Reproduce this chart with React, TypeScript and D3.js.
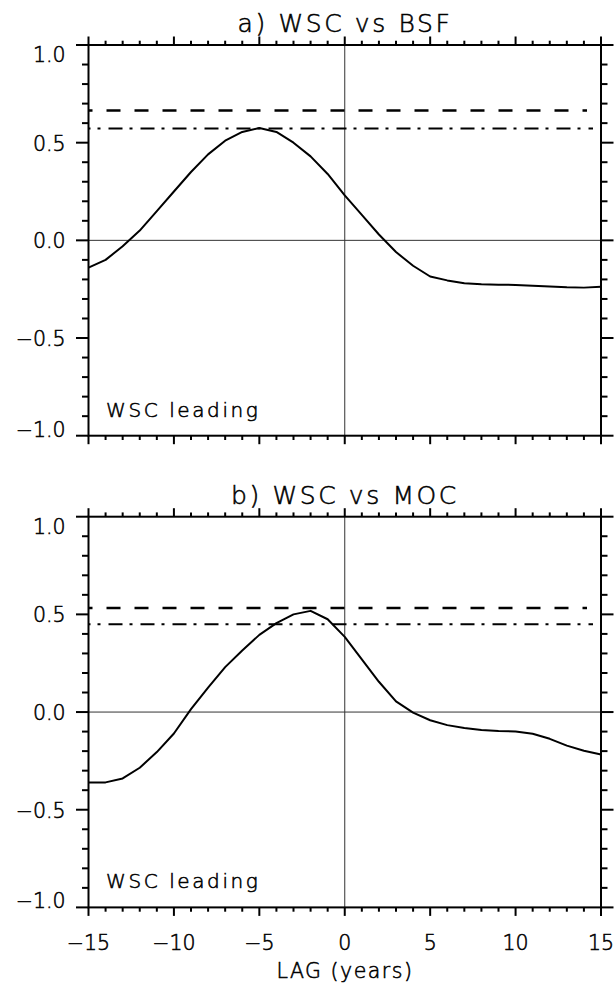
import React from 'react';
import * as d3 from 'd3';

// lag in years (WSC leading at negative lags)
const lags = [-15, -14, -13, -12, -11, -10, -9, -8, -7, -6, -5, -4, -3, -2, -1, 0,
  1, 2, 3, 4, 5, 6, 7, 8, 9, 10, 11, 12, 13, 14, 15];

// a) WSC vs BSF
const bsfCorr = [-0.14, -0.10, -0.03, 0.05, 0.15, 0.25, 0.35, 0.44, 0.51, 0.555, 0.575,
  0.555, 0.50, 0.43, 0.34, 0.23, 0.13, 0.03, -0.06, -0.13, -0.185, -0.205, -0.22, -0.225,
  -0.227, -0.228, -0.232, -0.236, -0.24, -0.242, -0.238];
const bsfSig95 = 0.665;
const bsfSig90 = 0.572;

// b) WSC vs MOC
const mocCorr = [-0.36, -0.36, -0.34, -0.285, -0.205, -0.11, 0.015, 0.125, 0.23, 0.315,
  0.395, 0.455, 0.50, 0.518, 0.475, 0.385, 0.27, 0.155, 0.055, -0.003, -0.042, -0.067,
  -0.082, -0.092, -0.097, -0.099, -0.111, -0.137, -0.172, -0.198, -0.217];
const mocSig95 = 0.532;
const mocSig90 = 0.449;

const xTicks = [-15, -10, -5, 0, 5, 10, 15];
const yTicks = [1.0, 0.5, 0.0, -0.5, -1.0];
const yTickLabels = ['1.0', '0.5', '0.0', '\u22120.5', '\u22121.0'];

const W = 616;
const H = 992;
const left = 88.5;
const right = 601;
const panelH = 390.7;
const font = '"DejaVu Sans", sans-serif';
// thin font + hairline outline, close to the plotting package's stroke font
const txt = { fontFamily: font, fontWeight: 300, stroke: '#000', strokeWidth: 0.55, fill: '#000' };

const x = d3.scaleLinear().domain([-15, 15]).range([left, right]);
const minorX = d3.range(-15, 16, 1);
const minorY = d3.range(-10, 11, 1).map(d => d / 10);

const Panel = ({ top, title, values, sig95, sig90 }) => {
  const y = d3.scaleLinear().domain([-1, 1]).range([top + panelH, top]);
  const line = d3.line<number>()
    .x((_, i) => x(lags[i]))
    .y(d => y(d));
  const bottom = top + panelH;

  return (
    <g>
      <text x={345} y={top - 13} textAnchor="middle" fontSize={25}
        letterSpacing={2.6} {...txt}>{title}</text>

      {/* zero lines */}
      <line x1={left} x2={right} y1={y(0)} y2={y(0)} stroke="#333" strokeWidth={1} />
      <line x1={x(0)} x2={x(0)} y1={top} y2={bottom} stroke="#333" strokeWidth={1} />

      {/* significance levels */}
      <line x1={left} x2={right - 14} y1={y(sig95)} y2={y(sig95)} stroke="#000"
        strokeWidth={2.5} strokeDasharray="14,14" strokeDashoffset={10} />
      <line x1={left} x2={right - 8} y1={y(sig90)} y2={y(sig90)} stroke="#000"
        strokeWidth={2} strokeDasharray="14,7,3,8" strokeDashoffset={12} />

      <path d={line(values) || ''} fill="none" stroke="#000" strokeWidth={2}
        strokeLinejoin="round" />

      {/* x ticks, top and bottom, outward */}
      {minorX.map(t => {
        const len = t % 5 === 0 ? 8.5 : 4.3;
        return (
          <g key={'x' + t}>
            <line x1={x(t)} x2={x(t)} y1={top} y2={top - len} stroke="#000" strokeWidth={2} />
            <line x1={x(t)} x2={x(t)} y1={bottom} y2={bottom + len} stroke="#000" strokeWidth={2} />
          </g>
        );
      })}
      {/* y ticks, left and right, outward */}
      {minorY.map(t => {
        const major = Math.abs(Math.round(t * 10)) % 5 === 0;
        const len = major ? 12.5 : 6.5;
        return (
          <g key={'y' + t}>
            <line x1={left} x2={left - len} y1={y(t)} y2={y(t)} stroke="#000" strokeWidth={2} />
            <line x1={right} x2={right + len} y1={y(t)} y2={y(t)} stroke="#000" strokeWidth={2} />
          </g>
        );
      })}
      {yTicks.map((t, i) => {
        const dy = t === 1 ? 17 : t === -1 ? 1 : 8;
        return (
          <text key={'yl' + t} x={65.5} y={y(t) + dy} textAnchor="end" fontSize={20.5}
            {...txt}>{yTickLabels[i]}</text>
        );
      })}

      <rect x={left} y={top} width={right - left} height={panelH} fill="none"
        stroke="#000" strokeWidth={2} />

      <text x={106} y={bottom - 19} fontSize={20} letterSpacing={2.6} {...txt}>WSC leading</text>
    </g>
  );
};

export default function App() {
  const bTop = 516.7;
  const axisY = bTop + panelH;
  return (
    <svg width={W} height={H} style={{ position: 'absolute', left: 0, top: 0, background: '#fff' }}>
      <rect width={W} height={H} fill="#fff" />
      <Panel top={45} title="a) WSC vs BSF" values={bsfCorr} sig95={bsfSig95} sig90={bsfSig90} />
      <Panel top={bTop} title="b) WSC vs MOC" values={mocCorr} sig95={mocSig95} sig90={mocSig90} />
      {xTicks.map(t => (
        <text key={'xl' + t} x={x(t)} y={axisY + 43} textAnchor="middle" fontSize={20.5}
          {...txt}>{t < 0 ? '\u2212' + Math.abs(t) : String(t)}</text>
      ))}
      <text x={345} y={axisY + 71} textAnchor="middle" fontSize={20.5} letterSpacing={1.5}
        {...txt}>LAG (years)</text>
    </svg>
  );
}
